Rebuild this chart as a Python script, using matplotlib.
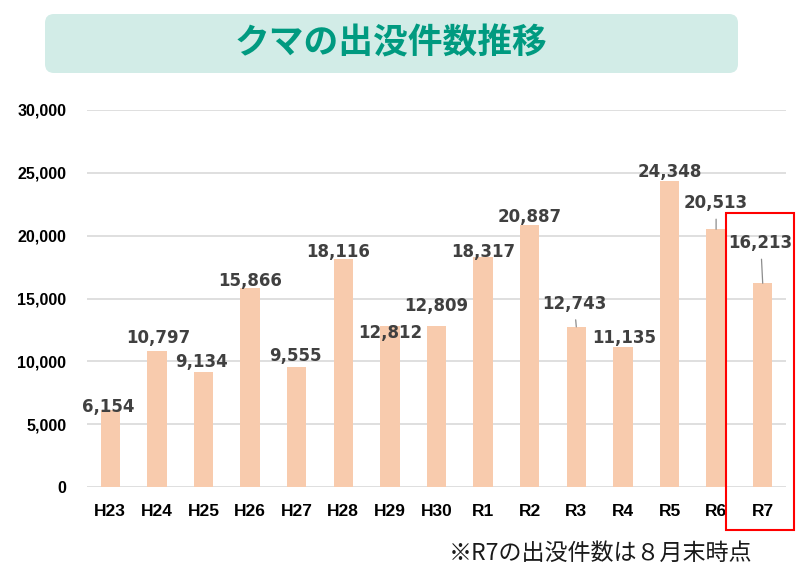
import matplotlib.pyplot as plt
from matplotlib.patches import FancyBboxPatch, Rectangle
from matplotlib.ticker import FuncFormatter

years = ['H23', 'H24', 'H25', 'H26', 'H27', 'H28', 'H29', 'H30',
         'R1', 'R2', 'R3', 'R4', 'R5', 'R6', 'R7']
counts = [6154, 10797, 9134, 15866, 9555, 18116, 12812, 12809,
          18317, 20887, 12743, 11135, 24348, 20513, 16213]
y_ticks = [0, 5000, 10000, 15000, 20000, 25000, 30000]

# label offsets from the bar top, in pixels (dx, dy up)
label_dx = [-2, 1, -2, 0, -1, -5, 0, 0, 0, 0, -2, 1, 0, 0, -2]
label_dy = [3, 13, 10, 7, 11, 7, -7, 20, 5, 8, 23, 9, 9, 26, 40]
leader = [False] * 10 + [True, False, False, True, True]

title = 'クマの出没件数推移'
note = '※R7の出没件数は８月末時点'

BAR = '#f8cbad'
LABEL = '#404040'
GRID = '#d9d9d9'

plt.rcParams['font.family'] = ['Noto Sans CJK JP', 'DejaVu Sans']

fig = plt.figure(figsize=(8, 5.77), dpi=100)
ax = fig.add_axes([87 / 800, 90 / 577, 699 / 800, 377 / 577])

x = list(range(len(years)))
ax.bar(x, counts, width=0.42, color=BAR, zorder=2)
ax.set_xlim(-0.5, len(years) - 0.5)
ax.set_ylim(0, 30000)
ax.set_yticks(y_ticks)
ax.yaxis.set_major_formatter(FuncFormatter(lambda v, p: f'{int(v):,}'))
ax.set_xticks(x)
ax.set_xticklabels(years)
ax.grid(axis='y', color=GRID, lw=1.2, zorder=0)
ax.set_axisbelow(True)
for s in ax.spines.values():
    s.set_visible(False)
ax.tick_params(length=0)
ax.tick_params(axis='x', pad=12)
ax.tick_params(axis='y', pad=15)
for t in ax.get_yticklabels():
    t.set_fontfamily('Liberation Sans')
    t.set_fontweight('bold')
    t.set_fontsize(11.5)
    t.set_color('black')
for t in ax.get_xticklabels():
    t.set_fontfamily('Liberation Sans')
    t.set_fontweight('bold')
    t.set_fontsize(12.5)
    t.set_color('black')

for i, v in enumerate(counts):
    props = None
    if leader[i]:
        props = dict(arrowstyle='-', color='#8c8c8c', lw=0.9,
                     shrinkA=3, shrinkB=0)
    ax.annotate(f'{v:,}', xy=(i, v), xytext=(label_dx[i], label_dy[i]),
                textcoords='offset pixels', ha='center', va='center',
                fontsize=12, fontweight='bold', color=LABEL,
                family='DejaVu Sans', arrowprops=props, zorder=3)

# overlay in pixel coordinates for title box, note and red frame
ov = fig.add_axes([0, 0, 1, 1], zorder=5)
ov.set_xlim(0, 800)
ov.set_ylim(577, 0)
ov.axis('off')
ov.patch.set_alpha(0)
ov.add_patch(FancyBboxPatch((45, 14), 693, 59,
                            boxstyle='round,pad=0,rounding_size=9',
                            fc='#d2ece7', ec='none'))
ov.text(391, 43, title, ha='center', va='center', fontsize=25,
        fontweight='bold', color='#009a80')
ov.text(600, 553, note, ha='center', va='center', fontsize=16.6,
        color='#1a1a1a')
ov.add_patch(Rectangle((726, 213), 68, 317, fill=False,
                       ec='#ff0000', lw=1.5))

fig.savefig('out.png', dpi=100)
